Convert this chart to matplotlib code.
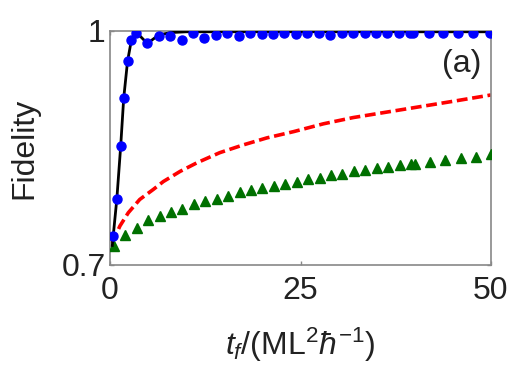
import matplotlib
matplotlib.use("Agg")
import matplotlib.pyplot as plt

plt.rcParams['font.family'] = ['Liberation Sans', 'DejaVu Sans']
plt.rcParams['mathtext.fontset'] = 'custom'
plt.rcParams['mathtext.rm'] = 'Liberation Sans'
plt.rcParams['mathtext.it'] = 'Liberation Sans:italic'

# Black solid line
black_t = [0.3, 0.9, 1.4, 1.8, 2.3, 2.8, 3.4, 4.9, 6.4, 8.0, 10.0, 50.0]
black_f = [0.725, 0.785, 0.852, 0.914, 0.961, 0.988, 0.999, 0.984, 0.995, 0.998, 0.999, 0.999]

# Blue circles
blue_t = [0.4, 0.9, 1.4, 1.8, 2.3, 2.8, 3.4, 4.9, 6.4, 7.9, 9.4, 10.9, 12.4, 13.9, 15.4,
          16.9, 18.4, 19.9, 21.4, 22.9, 24.4, 25.9, 27.4, 28.9, 30.4, 31.9, 33.4, 34.9,
          36.4, 37.9, 39.4, 39.8, 41.8, 43.7, 45.7, 47.7, 49.9]
blue_f = [0.737, 0.785, 0.852, 0.914, 0.961, 0.988, 0.998, 0.984, 0.994, 0.993, 0.989,
          0.997, 0.991, 0.995, 0.997, 0.993, 0.997, 0.996, 0.996, 0.997, 0.996, 0.997,
          0.997, 0.995, 0.998, 0.997, 0.997, 0.998, 0.997, 0.998, 0.997, 0.997, 0.998,
          0.997, 0.998, 0.997, 0.998]

# Red dashed line
red_t = [0.3, 0.44, 1.3, 2.4, 3.9, 5.7, 7.0, 9.2, 11.4, 14.4, 17.5, 20.6, 24.1, 28.0,
         31.9, 36.3, 40.7, 45.1, 50.0]
red_f = [0.728, 0.731, 0.750, 0.767, 0.784, 0.797, 0.807, 0.820, 0.831, 0.844, 0.854,
         0.863, 0.871, 0.881, 0.889, 0.896, 0.903, 0.910, 0.918]

# Green triangles
green_t = [0.5, 2.0, 3.5, 5.0, 6.5, 8.0, 9.5, 11.0, 12.5, 14.0, 15.5, 17.0, 18.5, 20.0,
           21.5, 23.0, 24.5, 26.0, 27.5, 29.0, 30.5, 32.0, 33.5, 35.0, 36.5, 38.0, 39.5,
           40.0, 42.0, 44.0, 46.0, 48.0, 50.0]
green_f = [0.724, 0.738, 0.748, 0.758, 0.763, 0.768, 0.772, 0.778, 0.782, 0.785, 0.789,
           0.793, 0.796, 0.799, 0.801, 0.804, 0.807, 0.810, 0.812, 0.815, 0.817, 0.820,
           0.822, 0.824, 0.826, 0.828, 0.830, 0.830, 0.832, 0.834, 0.837, 0.839, 0.842]

xticks = [0, 25, 50]
yticks = [0.7, 1.0]
ytick_labels = ['0.7', '1']

fig = plt.figure(figsize=(5.26, 3.82), dpi=100)
ax = fig.add_axes([110/526, 1-265/382, (491-110)/526, (265-31)/382])

ax.plot(red_t, red_f, color='#ff0000', lw=2.6, ls=(0, (3.0, 1.3)), zorder=2)
ax.plot(green_t, green_f, ls='none', marker='^', color='#007000', ms=7, zorder=3)
ax.plot(black_t, black_f, color='black', lw=2.0, zorder=4)
ax.plot(blue_t, blue_f, ls='none', marker='o', color='#0000ff', ms=6.5, zorder=5)

ax.set_xlim(0, 50)
ax.set_ylim(0.7, 1.0)
ax.set_xticks(xticks)
ax.set_xticklabels([str(v) for v in xticks])
ax.set_yticks(yticks)
ax.set_yticklabels(ytick_labels)
ax.tick_params(direction='in', length=3, width=1, color='#888888',
               top=True, right=True, labelsize=23, colors='#222222')
ax.tick_params(axis='x', pad=8)
ax.tick_params(axis='y', pad=3)
for s in ax.spines.values():
    s.set_color('#888888')
    s.set_linewidth(1.2)

ax.set_ylabel('Fidelity', fontsize=23, labelpad=16, color='#222222')
ax.set_xlabel(r'$t_f$/(ML$^2\hbar^{-1}$)', fontsize=23, labelpad=14, color='#222222')
ax.text(0.975, 0.86, '(a)', transform=ax.transAxes, fontsize=23,
        ha='right', va='center', color='#222222')

fig.savefig('out.png', dpi=100)
